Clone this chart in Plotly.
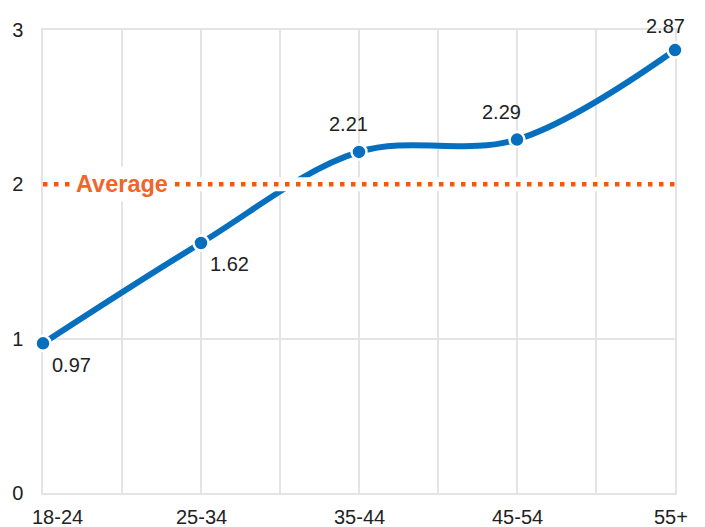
import plotly.graph_objects as go
import numpy as np

categories = ["18-24", "25-34", "35-44", "45-54", "55+"]
values = [0.97, 1.62, 2.21, 2.29, 2.87]
average_value = 2.0
average_label = "Average"
y_ticks = [0, 1, 2, 3]

BLUE = "#0670bf"
ORANGE = "#f25a0a"
ORANGE_TEXT = "#f2642a"
GRID = "#e4e4e7"
TEXT = "#222222"
FONT = "Liberation Sans"
FS = 20

xs = list(range(len(categories)))
x_end = len(categories) - 1

fig = go.Figure()

fig.add_trace(go.Scatter(
    x=xs, y=values, mode="lines+markers",
    line=dict(color=BLUE, width=6, shape="spline", smoothing=1.0),
    marker=dict(size=15, color=BLUE, line=dict(color="white", width=2.5)),
    cliponaxis=False, hoverinfo="skip", showlegend=False,
))

# white halo beneath the average line
fig.add_trace(go.Scatter(
    x=[0, x_end], y=[average_value, average_value], mode="lines",
    line=dict(color="white", width=14), hoverinfo="skip", showlegend=False,
    cliponaxis=False,
))
fig.add_trace(go.Scatter(
    x=[0, x_end], y=[average_value, average_value], mode="lines",
    line=dict(color=ORANGE, width=4.5, dash="4.5px,6.5px"),
    hoverinfo="skip", showlegend=False, cliponaxis=False,
))

annotations = []
# data labels (offsets in px)
label_offsets = [(28, -22), (28, -21), (-11, 28), (-16, 28), (-10, 24)]
for i, v in enumerate(values):
    dx, dy = label_offsets[i]
    annotations.append(dict(
        x=xs[i], y=v, text=f"{v:.2f}", showarrow=False,
        xanchor="center", yanchor="middle", xshift=dx, yshift=dy,
        font=dict(family=FONT, size=FS, color=TEXT),
    ))

# category labels
for i, c in enumerate(categories):
    if i == 0:
        xa, dx = "left", -13
    elif i == x_end:
        xa, dx = "right", 15
    else:
        xa, dx = "center", 0
    annotations.append(dict(
        x=xs[i], y=0, text=c, showarrow=False, xanchor=xa, yanchor="middle",
        xshift=dx, yshift=-24, font=dict(family=FONT, size=FS, color=TEXT),
    ))

annotations.append(dict(
    x=0, y=average_value, text=average_label, showarrow=False,
    xanchor="left", yanchor="middle", xshift=28, yshift=0,
    bgcolor="white", borderpad=4,
    font=dict(family=FONT, size=23.5, color=ORANGE_TEXT, weight="bold"),
))

fig.update_layout(
    width=705, height=527,
    margin=dict(l=43, r=30, t=30, b=34),
    paper_bgcolor="white", plot_bgcolor="white",
    font=dict(family=FONT, size=FS, color=TEXT),
    annotations=annotations,
    xaxis=dict(
        range=[0, x_end], tickvals=list(np.arange(0, x_end + 0.01, 0.5)),
        showticklabels=False, ticks="", showgrid=True, gridcolor=GRID,
        gridwidth=1.5, zeroline=False, showline=True, mirror=True,
        linecolor=GRID, linewidth=1.5, layer="below traces",
    ),
    yaxis=dict(
        range=[0, 3], tickvals=y_ticks, ticks="", showgrid=True,
        gridcolor=GRID, gridwidth=1.5, zeroline=False, showline=True,
        mirror=True, linecolor=GRID, linewidth=1.5, layer="below traces",
        ticklabelstandoff=14, tickfont=dict(family=FONT, size=FS, color=TEXT),
    ),
)

fig.write_html("out.html", config={"displayModeBar": False},
               post_script="document.body.style.margin='0px';")
